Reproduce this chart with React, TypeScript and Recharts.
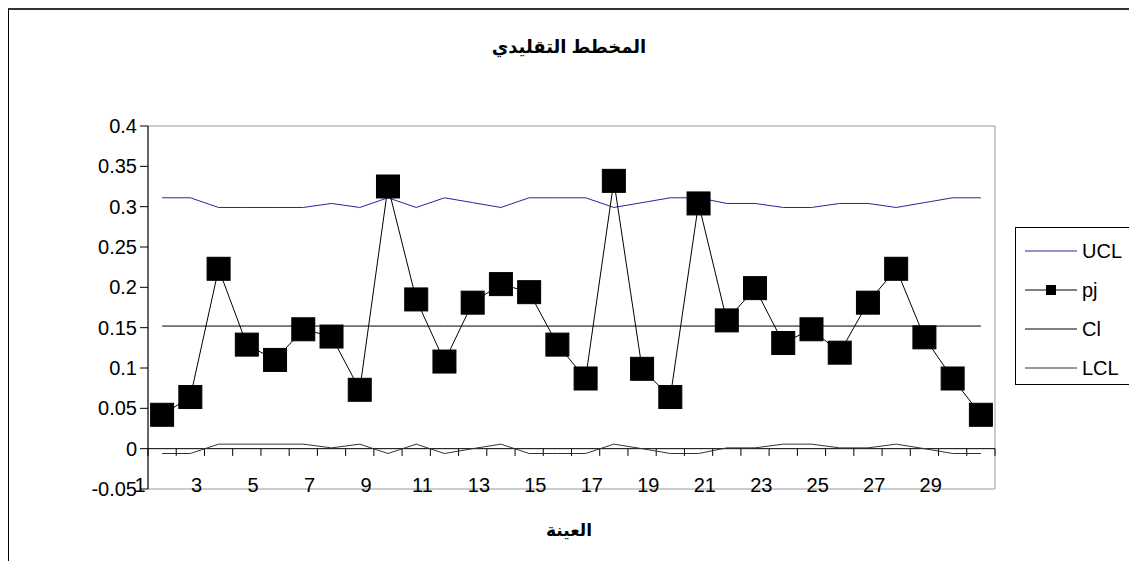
import React from "react";
import {
  LineChart,
  Line,
  XAxis,
  YAxis,
  ReferenceLine,
  ReferenceArea,
} from "recharts";

// ---- data ----
const samples = [1, 2, 3, 4, 5, 6, 7, 8, 9, 10, 11, 12, 13, 14, 15, 16, 17, 18, 19, 20, 21, 22, 23, 24, 25, 26, 27, 28, 29, 30];
const uclValues = [0.311, 0.311, 0.299, 0.299, 0.299, 0.299, 0.304, 0.299, 0.311, 0.299, 0.311, 0.305, 0.299, 0.311, 0.311, 0.311, 0.299, 0.305, 0.311, 0.311, 0.304, 0.304, 0.299, 0.299, 0.304, 0.304, 0.299, 0.305, 0.311, 0.311];
const pjValues = [0.042, 0.064, 0.223, 0.129, 0.11, 0.148, 0.139, 0.073, 0.325, 0.185, 0.108, 0.181, 0.204, 0.194, 0.129, 0.087, 0.332, 0.099, 0.064, 0.304, 0.159, 0.199, 0.131, 0.148, 0.119, 0.181, 0.223, 0.138, 0.087, 0.042];
const clValues = [0.152, 0.152, 0.152, 0.152, 0.152, 0.152, 0.152, 0.152, 0.152, 0.152, 0.152, 0.152, 0.152, 0.152, 0.152, 0.152, 0.152, 0.152, 0.152, 0.152, 0.152, 0.152, 0.152, 0.152, 0.152, 0.152, 0.152, 0.152, 0.152, 0.152];
const lclValues = [-0.006, -0.006, 0.0056, 0.0056, 0.0056, 0.0056, 0.001, 0.0056, -0.006, 0.0056, -0.006, 0, 0.0056, -0.006, -0.006, -0.006, 0.0056, 0, -0.006, -0.006, 0.001, 0.001, 0.0056, 0.0056, 0.001, 0.001, 0.0056, 0, -0.006, -0.006];

const xTickLabels = [1, 3, 5, 7, 9, 11, 13, 15, 17, 19, 21, 23, 25, 27, 29];
const yTicks = [-0.05, 0, 0.05, 0.1, 0.15, 0.2, 0.25, 0.3, 0.35, 0.4];

const title = "المخطط التقليدي";
const xTitle = "العينة";

const seriesNames = { ucl: "UCL", pj: "pj", cl: "Cl", lcl: "LCL" };
const colors = { ucl: "#26269a", pj: "#000000", cl: "#000000", lcl: "#333333" };

const data = samples.map((s, i) => ({
  sample: s,
  ucl: uclValues[i],
  pj: pjValues[i],
  cl: clValues[i],
  lcl: lclValues[i],
}));

// boundaries between categories (for the tick marks on the zero line)
const boundaries = [0.5, ...samples.map((s) => s + 0.5)];

const FONT = "Arial, 'Liberation Sans', 'DejaVu Sans', sans-serif";

const XTick = (props: any) => {
  const { x, y, payload } = props;
  return (
    <text
      x={x - 22}
      y={y - 4}
      dy="0.35em"
      textAnchor="middle"
      fontSize={20}
      fontFamily={FONT}
      fill="#000"
    >
      {payload.value}
    </text>
  );
};

const SquareDot = (props: any) => {
  const { cx, cy, index } = props;
  if (cx == null || cy == null) return <g key={`d-${index}`} />;
  return (
    <rect
      key={`d-${index}`}
      x={cx - 11.5}
      y={cy - 11.5}
      width={23}
      height={23}
      fill="#000"
      stroke="#000"
    />
  );
};

const legendItems = [
  { key: "ucl", marker: false },
  { key: "pj", marker: true },
  { key: "cl", marker: false },
  { key: "lcl", marker: false },
];

export default function App() {
  return (
    <div
      style={{
        position: "relative",
        width: 1128,
        height: 559,
        marginBottom: -8,
        borderTop: "2px solid #333",
        borderLeft: "1px solid #000",
        fontFamily: FONT,
        background: "#fff",
      }}
    >
      <div
        style={{
          position: "absolute",
          left: 0,
          width: 1120,
          top: 26,
          textAlign: "center",
          fontWeight: "bold",
          fontSize: 18,
          direction: "rtl",
        }}
      >
        {title}
      </div>
      <div
        style={{
          position: "absolute",
          left: 0,
          width: 1120,
          top: 510,
          textAlign: "center",
          fontWeight: "bold",
          fontSize: 17,
          direction: "rtl",
        }}
      >
        {xTitle}
      </div>

      <div style={{ position: "absolute", left: 0, top: 0 }}>
        <LineChart
          width={1120}
          height={551}
          data={data}
          margin={{ top: 116, right: 134, left: 0, bottom: 32 }}
        >
          <ReferenceArea
            x1={0.5}
            x2={30.5}
            y1={-0.05}
            y2={0.4}
            fill="none"
            stroke="#999"
            strokeWidth={1}
          />
          <XAxis
            dataKey="sample"
            type="number"
            domain={[0.5, 30.5]}
            ticks={xTickLabels}
            interval={0}
            tick={<XTick />}
            tickLine={false}
            tickSize={0}
            tickMargin={0}
            axisLine={false}
            height={40}
          />
          <YAxis
            type="number"
            domain={[-0.05, 0.4]}
            ticks={yTicks}
            interval={0}
            width={139}
            tickSize={8}
            tickMargin={3}
            axisLine={{ stroke: "#000" }}
            tickLine={{ stroke: "#000" }}
            tick={{ fill: "#000", fontSize: 20, fontFamily: FONT }}
            allowDataOverflow
          />
          <ReferenceLine y={0} stroke="#000" strokeWidth={1} />
          {boundaries.map((b) => (
            <ReferenceLine
              key={`tb-${b}`}
              segment={[
                { x: b, y: 0 },
                { x: b, y: -0.009 },
              ]}
              stroke="#000"
              strokeWidth={1}
            />
          ))}
          <Line
            dataKey="ucl"
            name={seriesNames.ucl}
            stroke={colors.ucl}
            strokeWidth={1}
            dot={false}
            activeDot={false}
            isAnimationActive={false}
          />
          <Line
            dataKey="cl"
            name={seriesNames.cl}
            stroke={colors.cl}
            strokeWidth={1}
            dot={false}
            activeDot={false}
            isAnimationActive={false}
          />
          <Line
            dataKey="lcl"
            name={seriesNames.lcl}
            stroke={colors.lcl}
            strokeWidth={1}
            dot={false}
            activeDot={false}
            isAnimationActive={false}
          />
          <Line
            dataKey="pj"
            name={seriesNames.pj}
            stroke={colors.pj}
            strokeWidth={1}
            dot={(p: any) => <SquareDot {...p} key={`d-${p.index}`} />}
            activeDot={false}
            isAnimationActive={false}
          />
        </LineChart>
      </div>

      <div
        style={{
          position: "absolute",
          left: 1006,
          top: 217,
          width: 119,
          height: 158,
          border: "1px solid #000",
          boxSizing: "border-box",
          background: "#fff",
        }}
      >
        {legendItems.map((it, i) => (
          <div
            key={it.key}
            style={{
              position: "absolute",
              left: 0,
              top: 23 + i * 39 - 12,
              height: 24,
              display: "flex",
              alignItems: "center",
            }}
          >
            <svg width={70} height={24} style={{ display: "block" }}>
              <line
                x1={9}
                x2={61}
                y1={12}
                y2={12}
                stroke={(colors as any)[it.key]}
                strokeWidth={1}
              />
              {it.marker && <rect x={30} y={7} width={10} height={10} fill="#000" />}
            </svg>
            <span style={{ fontSize: 20, color: "#000", marginLeft: -4 }}>
              {(seriesNames as any)[it.key]}
            </span>
          </div>
        ))}
      </div>
    </div>
  );
}
